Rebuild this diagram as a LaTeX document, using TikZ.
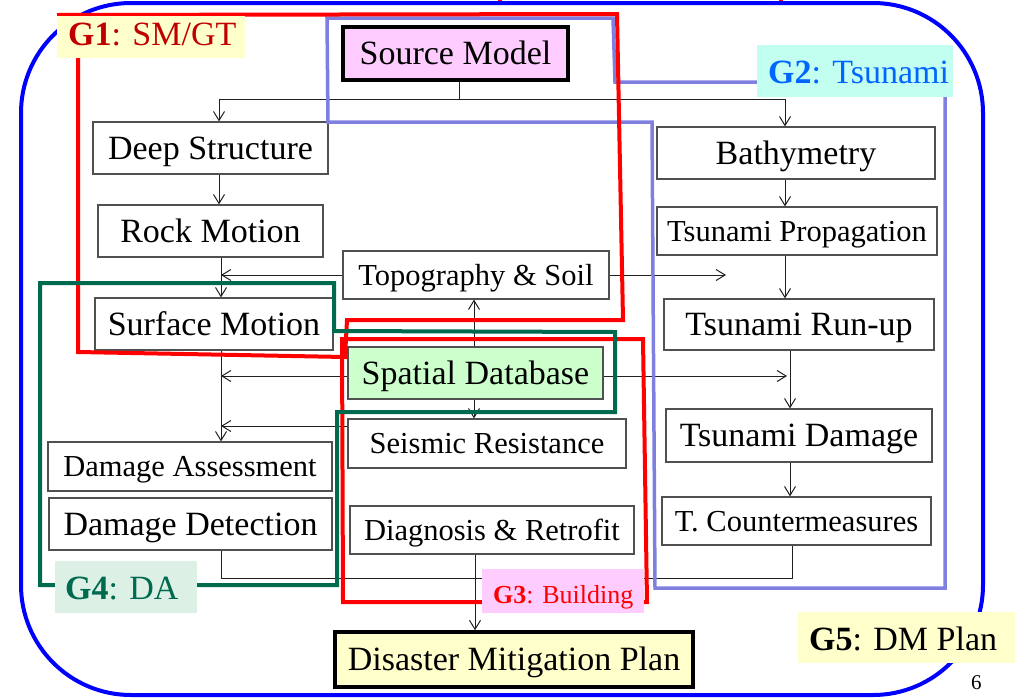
\documentclass[tikz,border=0pt]{standalone}
\usepackage{fontspec}
\setmainfont{Liberation Serif}
\usetikzlibrary{arrows.meta}
\definecolor{boxgray}{HTML}{505050}
\definecolor{connc}{HTML}{202020}
\definecolor{gred}{HTML}{FF0000}
\definecolor{gonetext}{HTML}{C00000}
\definecolor{glav}{HTML}{7F7FE0}
\definecolor{gtwotext}{HTML}{0066FF}
\definecolor{gtwobg}{HTML}{C2FFF0}
\definecolor{pinkbg}{HTML}{FFCCFF}
\definecolor{ggreen}{HTML}{006A4E}
\definecolor{gfourbg}{HTML}{DCF0E6}
\definecolor{yellowbg}{HTML}{FFFFCC}
\definecolor{spatgreen}{HTML}{CCFFCC}
\definecolor{outerblue}{HTML}{0000FF}
\begin{document}
\begin{tikzpicture}[x=1pt,y=-1pt,
  box/.style={draw=boxgray, line width=1.2pt, fill=white, inner sep=0pt,
    text height=22.4pt, text depth=0pt, font=\fontsize{34}{40}\selectfont},
  boxs/.style={box, text height=20.2pt, font=\fontsize{30.5}{36}\selectfont},
  thickbox/.style={box, draw=black, line width=3.5pt},
  arr/.style={-{Straight Barb[length=9pt,width=11pt]}},
  conn/.style={draw=connc, line width=1pt},
  grp/.style={line width=4pt, line join=miter},
  lbl/.style={anchor=base west, inner sep=0pt, font=\fontsize{34}{40}\selectfont},
]
\useasboundingbox (0,0) rectangle (1033,697);
% clipped marks at top
\draw[gred, line width=4pt] (500,0) -- (500,3);
\draw[gred, line width=4pt] (781,0) -- (781,3);
% outer frame (G5)
\draw[outerblue, line width=4pt, rounded corners=110pt] (21,3) rectangle (983,695);

% boxes
\node[thickbox, fill=pinkbg, minimum width=225pt, minimum height=53pt] (src) at (455.5,53.5) {Source Model};
\node[box, minimum width=235pt, minimum height=52pt] (deep) at (210.5,148) {Deep Structure};
\node[box, minimum width=225pt, minimum height=52pt] (rock) at (210.5,231) {Rock Motion};
\node[boxs, minimum width=266pt, minimum height=48pt] (topo) at (476,275) {Topography \& Soil};
\node[box, minimum width=238pt, minimum height=52pt] (surf) at (214,324) {Surface Motion};
\node[box, fill=spatgreen, minimum width=255pt, minimum height=52pt] (spat) at (475.5,373) {Spatial Database};
\node[boxs, minimum width=278pt, minimum height=49pt] (seis) at (487,443.5) {Seismic Resistance};
\node[boxs, minimum width=284pt, minimum height=48pt] (diag) at (492,530) {Diagnosis \& Retrofit};
\node[boxs, minimum width=284pt, minimum height=49pt] (dass) at (190,466.5) {Damage Assessment};
\node[box, minimum width=283pt, minimum height=52pt] (ddet) at (190.5,524) {Damage Detection};
\node[thickbox, fill=yellowbg, minimum width=358pt, minimum height=55pt] (dmp) at (514,659.5) {Disaster Mitigation Plan};
\node[box, minimum width=278pt, minimum height=52pt] (bath) at (796,153) {Bathymetry};
\node[boxs, minimum width=280pt, minimum height=48pt] (prop) at (797,231) {Tsunami Propagation};
\node[box, minimum width=270pt, minimum height=51pt] (runup) at (799,324.5) {Tsunami Run-up};
\node[box, minimum width=266pt, minimum height=53pt] (tdam) at (799,435.5) {Tsunami Damage};
\node[boxs, minimum width=269pt, minimum height=48pt] (tcm) at (796.5,521) {T. Countermeasures};

% helper coordinates
\coordinate (sj) at (459,99);
\coordinate (cA) at (219,0);
\coordinate (cB) at (221,0);
\coordinate (cT) at (474,0);
\coordinate (cD) at (475,0);
\coordinate (cR1) at (785,0);
\coordinate (cR2) at (790,0);
\coordinate (cR3) at (792,0);
\coordinate (tfree) at (726,0);
\coordinate (sfree) at (787,0);
\coordinate (rS) at (0,376);
\coordinate (rK) at (0,426);
\coordinate (rM) at (0,578);

% connectors
\draw[conn] (src.south -| sj) -- (sj);
\draw[conn, arr] (sj) -| (deep.north -| cA);
\draw[conn, arr] (sj) -| (bath.north -| cR1);
\draw[conn, arr] (deep.south -| cA) -- (rock.north -| cA);
\draw[conn, arr] (rock.south -| cB) -- (surf.north -| cB);
\draw[conn, arr] (topo.west) -- (topo.west -| cB);
\draw[conn, arr] (topo.east) -- (topo.east -| tfree);
\draw[conn, arr] (spat.north -| cT) -- (topo.south -| cT);
\draw[conn, arr] (spat.south -| cT) -- (seis.north -| cT);
\draw[conn, arr] (spat.west |- rS) -- (cB |- rS);
\draw[conn, arr] (spat.east |- rS) -- (sfree |- rS);
\draw[conn, arr] (surf.south -| cB) -- (dass.north -| cB);
\draw[conn, arr] (seis.west |- rK) -- (cB |- rK);
\draw[conn, arr] (diag.south -| cD) -- (dmp.north -| cD);
\draw[conn] (ddet.south -| cB) -- (cB |- rM) -- (cR3 |- rM) -- (tcm.south -| cR3);
\draw[conn, arr] (bath.south -| cR1) -- (prop.north -| cR1);
\draw[conn, arr] (prop.south -| cR1) -- (runup.north -| cR1);
\draw[conn, arr] (runup.south -| cR2) -- (tdam.north -| cR2);
\draw[conn, arr] (tdam.south -| cR2) -- (tcm.north -| cR2);

% group outlines
\draw[grp, glav, line width=3.5pt] (800,82) -- (615,82) -- (613,18) -- (327,18) -- (328,122) -- (652,122) -- (655,588) -- (945,588) -- (945,80);
\draw[grp, gred] (57,15) -- (617,14) -- (623,320) -- (347,320) -- (345,357) -- (78,352) -- (78,40);
\draw[grp, gred] (490,602) -- (343,602) -- (342,339) -- (643,339) -- (647,602) -- (630,602);
\draw[grp, ggreen] (100,585) -- (40,585) -- (40,283) -- (334,283) -- (334,331) -- (615,332) -- (615,412) -- (337,412) -- (337,585) -- (150,585);

% group labels
\fill[yellowbg] (57,16) rectangle (245,58);
\node[lbl, text=gonetext] (g1) at (68,45) {\textbf{G1}: SM/GT};
\fill[gtwobg] (757,45) rectangle (953,97);
\node[lbl, text=gtwotext] (g2) at (768,83) {\textbf{G2}: Tsunami};
\fill[pinkbg] (482,569) rectangle (644,613);
\node[lbl, text=gred, font=\fontsize{26}{30}\selectfont] (g3) at (493,603) {\textbf{G3}: Building};
\fill[gfourbg] (55,561) rectangle (197,613);
\node[lbl, text=ggreen] (g4) at (65,599) {\textbf{G4}: DA};
\fill[yellowbg] (798,612) rectangle (1015,663);
\node[lbl, text=black] (g5) at (809,650) {\textbf{G5}: DM Plan};

\node[lbl, font=\fontsize{21}{24}\selectfont] (pg) at (971,689) {6};
\end{tikzpicture}
\end{document}
